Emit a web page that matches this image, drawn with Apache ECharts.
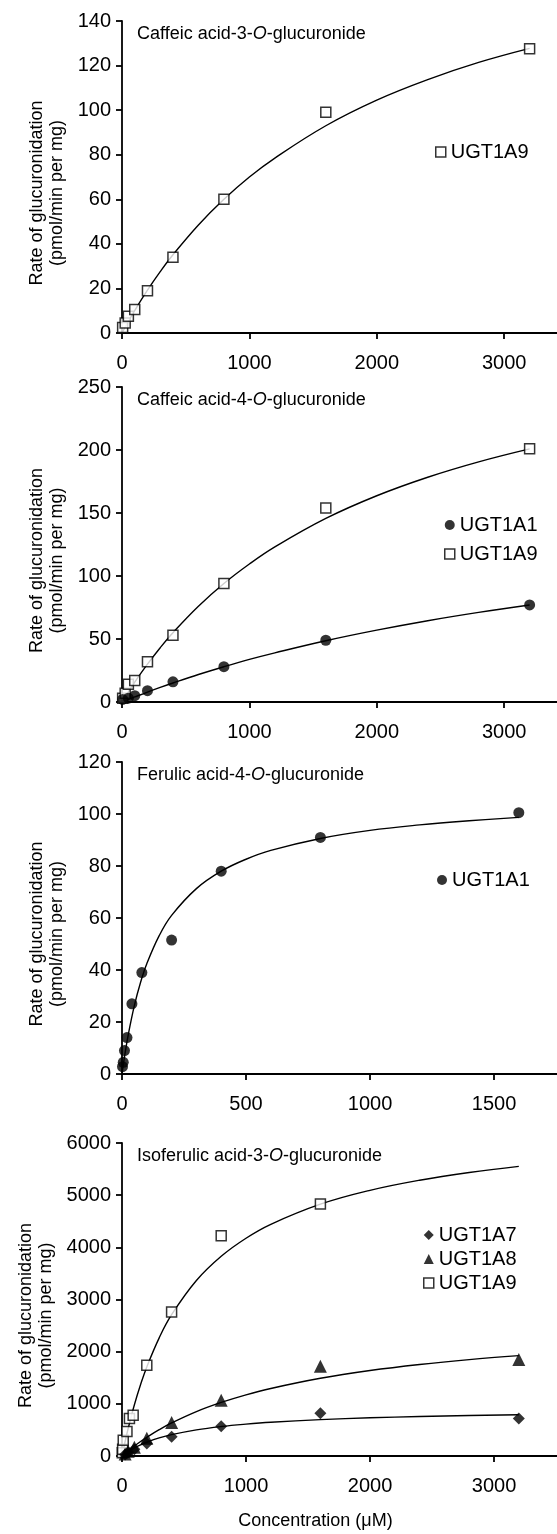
<!DOCTYPE html>
<html>
<head>
<meta charset="utf-8">
<script src="https://cdn.jsdelivr.net/npm/echarts@6/dist/echarts.min.js"></script>
<style>
  html, body { margin: 0; padding: 0; background: #fff; }
  #main { width: 557px; height: 1534px; }
</style>
</head>
<body>
<div id="main"></div>
<script>
// ---- panel A: caffeic acid-3-O-glucuronide ----
var caf3Conc = [5, 25, 50, 100, 200, 400, 800, 1600, 3200];
var caf3UGT1A9 = [2.5, 4.5, 7.5, 10.5, 19, 34, 60, 99, 127.5];
var caf3FitConc = [0, 50, 100, 200, 300, 400, 600, 800, 1000, 1200, 1600, 2000, 2400, 2800, 3200];
var caf3FitUGT1A9 = [0, 5.2, 10.1, 19.2, 27.5, 35.1, 48.5, 60, 70, 78.5, 93, 104.5, 113.7, 121.4, 127.7];

// ---- panel B: caffeic acid-4-O-glucuronide ----
var caf4Conc9 = [5, 25, 50, 100, 200, 400, 800, 1600, 3200];
var caf4UGT1A9 = [3, 7, 14, 17, 32, 53, 94, 154, 201];
var caf4Conc1 = [5, 50, 100, 200, 400, 800, 1600, 3200];
var caf4UGT1A1 = [2, 3, 5, 9, 16, 28, 49, 77];
var caf4FitConc = [0, 50, 100, 200, 300, 400, 600, 800, 1000, 1200, 1600, 2000, 2400, 2800, 3200];
var caf4FitUGT1A9 = [0, 8.1, 15.8, 30, 43.1, 55, 76, 94, 109.5, 123.1, 145.7, 163.7, 178.4, 190.6, 200.9];
var caf4FitUGT1A1 = [0, 2, 4, 7.9, 11.6, 15.1, 21.8, 28, 33.8, 39, 48.6, 57, 64.5, 71.1, 77];

// ---- panel C: ferulic acid-4-O-glucuronide ----
var ferConc = [2, 5, 10, 20, 40, 80, 200, 400, 800, 1600];
var ferUGT1A1 = [2.8, 4.5, 9, 14, 27, 39, 51.5, 78, 91, 100.5];
var ferFitConc = [0, 10, 25, 50, 75, 100, 150, 200, 300, 400, 500, 600, 800, 1000, 1200, 1400, 1600];
var ferFitUGT1A1 = [0, 6.6, 15, 26.4, 35.3, 42.4, 53.2, 61, 71.3, 78, 82.6, 86, 90.6, 93.7, 95.8, 97.4, 98.7];

// ---- panel D: isoferulic acid-3-O-glucuronide ----
var isoConc9 = [2, 5, 10, 40, 60, 90, 200, 400, 800, 1600];
var isoUGT1A9 = [60, 130, 300, 470, 720, 780, 1740, 2760, 4220, 4830];
var isoConc78 = [25, 50, 100, 200, 400, 800, 1600, 3200];
var isoUGT1A8 = [40, 90, 170, 340, 640, 1070, 1720, 1850];
var isoUGT1A7 = [30, 70, 130, 240, 370, 570, 820, 720];
var isoFitConc = [0, 25, 50, 100, 150, 200, 300, 400, 600, 800, 1000, 1200, 1600, 2000, 2400, 2800, 3200];
var isoFitUGT1A9 = [0, 277, 531, 982, 1370, 1708, 2265, 2708, 3364, 3828, 4174, 4441, 4827, 5093, 5287, 5435, 5552];
var isoFitUGT1A8 = [0, 51, 99, 192, 278, 358, 504, 633, 851, 1027, 1173, 1295, 1490, 1638, 1754, 1848, 1924];
var isoFitUGT1A7 = [0, 44, 84, 154, 213, 264, 346, 409, 501, 565, 611, 647, 697, 732, 757, 775, 790];

// axes / labels
var titleParts = [
  ['Caffeic acid-3-', '-glucuronide'],
  ['Caffeic acid-4-', '-glucuronide'],
  ['Ferulic acid-4-', '-glucuronide'],
  ['Isoferulic acid-3-', '-glucuronide']
];
var yMax = [140, 250, 120, 6000];
var yStep = [20, 50, 20, 1000];
var xTicks = [[0, 1000, 2000, 3000], [0, 1000, 2000, 3000], [0, 500, 1000, 1500], [0, 1000, 2000, 3000]];
var xMax = [3415, 3415, 1754, 3508];

var INK = '#000';
var FONT = 'Liberation Sans, Arial, sans-serif';
var gridTops = [21, 387, 762, 1143];
var gridHeights = [312, 315, 312, 313];

function pairs(xs, ys) {
  return xs.map(function (x, k) { return [x, ys[k]]; });
}
function plain(v) { return String(v); }

var marks = {
  UGT1A9: { symbol: 'rect', size: 10, itemStyle: { color: '#fff', borderColor: INK, borderWidth: 1.5 } },
  UGT1A1: { symbol: 'circle', size: 11, itemStyle: { color: INK } },
  UGT1A8: { symbol: 'triangle', size: 13, itemStyle: { color: INK } },
  UGT1A7: { symbol: 'diamond', size: 12, itemStyle: { color: INK } }
};

function dots(i, name, xs, ys) {
  var m = marks[name];
  return {
    type: 'scatter', name: name, xAxisIndex: i, yAxisIndex: i,
    symbol: m.symbol, symbolSize: m.size, itemStyle: m.itemStyle,
    data: pairs(xs, ys), z: 4
  };
}
function fit(i, xs, ys) {
  return {
    type: 'line', name: 'fit', xAxisIndex: i, yAxisIndex: i,
    smooth: 0.4, symbol: 'none', silent: true,
    lineStyle: { color: INK, width: 1.4 },
    data: pairs(xs, ys), z: 2
  };
}
function legendItem(name) {
  var m = marks[name];
  return { name: name, icon: m.symbol, itemStyle: m.itemStyle };
}

var grids = [], xAxes = [], yAxes = [], titles = [];
for (var i = 0; i < 4; i++) {
  grids.push({ left: 122, right: 0, top: gridTops[i], height: gridHeights[i] });
  xAxes.push({
    type: 'value', gridIndex: i, min: 0, max: xMax[i],
    axisLine: { onZero: false, lineStyle: { color: INK, width: 1.8 } },
    axisTick: { show: true, length: 6, customValues: xTicks[i], lineStyle: { color: INK, width: 1.8 } },
    axisLabel: { customValues: xTicks[i], formatter: plain, margin: 20, color: INK, fontSize: 20, fontFamily: FONT },
    splitLine: { show: false },
    name: i === 3 ? 'Concentration (\u03bcM)' : '',
    nameLocation: 'middle', nameGap: 56,
    nameTextStyle: { color: INK, fontSize: 18, fontFamily: FONT, padding: [0, 48, 0, 0] }
  });
  yAxes.push({
    type: 'value', gridIndex: i, min: 0, max: yMax[i], interval: yStep[i],
    axisLine: { show: true, lineStyle: { color: INK, width: 1.8 } },
    axisTick: { show: true, length: 6, lineStyle: { color: INK, width: 1.8 } },
    axisLabel: { formatter: plain, margin: 11, color: INK, fontSize: 20, fontFamily: FONT },
    splitLine: { show: false },
    name: 'Rate of glucuronidation\n(pmol/min per mg)',
    nameLocation: 'middle', nameGap: i === 3 ? 62 : 54,
    nameTextStyle: { color: INK, fontSize: 18, lineHeight: 20, fontFamily: FONT, padding: [0, 32, 0, 0] }
  });
  titles.push({
    text: '{n|' + titleParts[i][0] + '}{i|O}{n|' + titleParts[i][1] + '}',
    left: 137, top: gridTops[i] + 4, padding: 0,
    textStyle: {
      rich: {
        n: { fontSize: 18, color: INK, fontFamily: FONT, fontWeight: 'normal' },
        i: { fontSize: 18, color: INK, fontFamily: FONT, fontWeight: 'normal', fontStyle: 'italic' }
      }
    }
  });
}

var legendBase = {
  orient: 'vertical', selectedMode: false, itemWidth: 10, itemHeight: 10,
  textStyle: { color: INK, fontSize: 20, fontFamily: FONT }
};
var legends = [
  Object.assign({}, legendBase, { left: 430, top: 137, data: [legendItem('UGT1A9')] }),
  Object.assign({}, legendBase, { left: 439, top: 510, itemGap: 9, data: [legendItem('UGT1A1'), legendItem('UGT1A9')] }),
  Object.assign({}, legendBase, { left: 432, top: 865, data: [legendItem('UGT1A1')] }),
  Object.assign({}, legendBase, { left: 418, top: 1220, itemGap: 4, data: [legendItem('UGT1A7'), legendItem('UGT1A8'), legendItem('UGT1A9')] })
];

var series = [
  fit(0, caf3FitConc, caf3FitUGT1A9),
  dots(0, 'UGT1A9', caf3Conc, caf3UGT1A9),
  fit(1, caf4FitConc, caf4FitUGT1A9),
  fit(1, caf4FitConc, caf4FitUGT1A1),
  dots(1, 'UGT1A9', caf4Conc9, caf4UGT1A9),
  dots(1, 'UGT1A1', caf4Conc1, caf4UGT1A1),
  fit(2, ferFitConc, ferFitUGT1A1),
  dots(2, 'UGT1A1', ferConc, ferUGT1A1),
  fit(3, isoFitConc, isoFitUGT1A9),
  fit(3, isoFitConc, isoFitUGT1A8),
  fit(3, isoFitConc, isoFitUGT1A7),
  dots(3, 'UGT1A9', isoConc9, isoUGT1A9),
  dots(3, 'UGT1A8', isoConc78, isoUGT1A8),
  dots(3, 'UGT1A7', isoConc78, isoUGT1A7)
];

var chart = echarts.init(document.getElementById('main'));
chart.setOption({
  animation: false,
  backgroundColor: '#fff',
  title: titles,
  legend: legends,
  grid: grids,
  xAxis: xAxes,
  yAxis: yAxes,
  series: series
});
</script>
</body>
</html>
